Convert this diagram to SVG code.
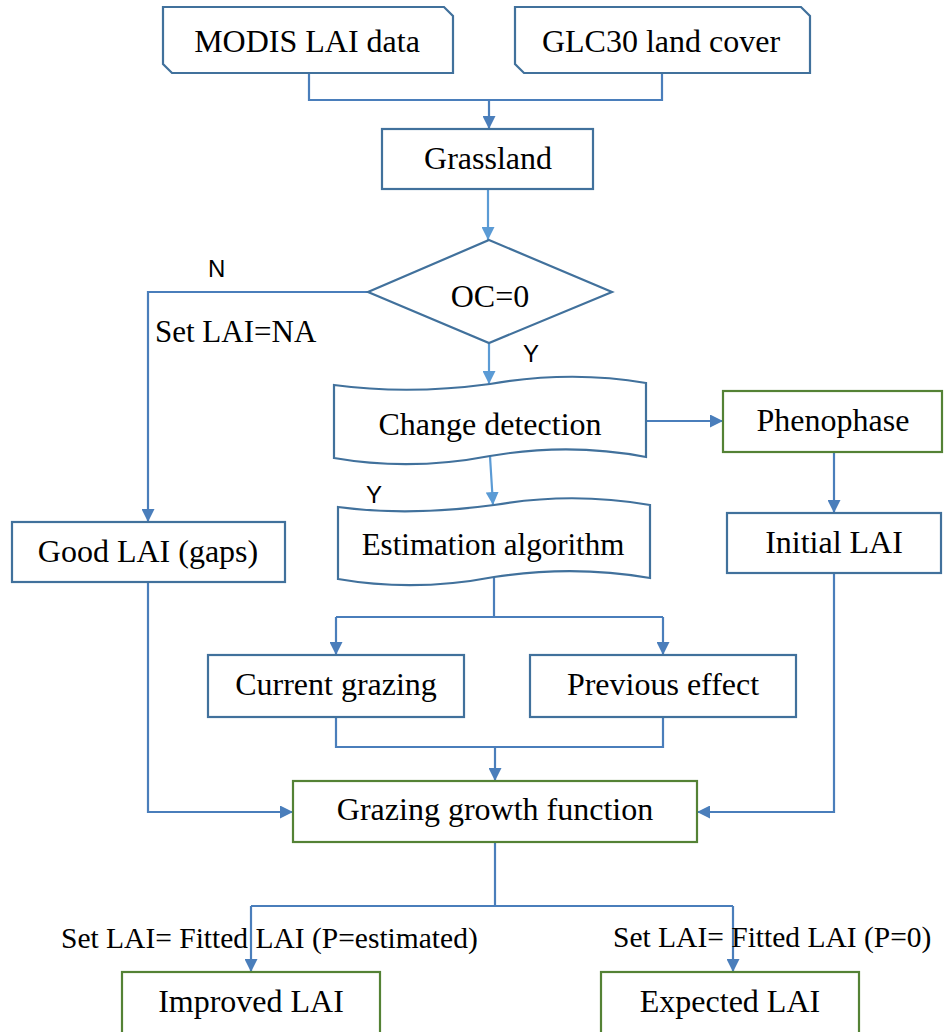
<svg xmlns="http://www.w3.org/2000/svg" width="944" height="1032" viewBox="0 0 944 1032">
<defs>
<marker id="ad" viewBox="0 0 10 10" refX="10" refY="5" markerWidth="13" markerHeight="13" markerUnits="userSpaceOnUse" orient="auto"><path d="M0,0 L10,5 L0,10 z" fill="#4A7EBB"/></marker>
<marker id="al" viewBox="0 0 10 10" refX="10" refY="5" markerWidth="13" markerHeight="13" markerUnits="userSpaceOnUse" orient="auto"><path d="M0,0 L10,5 L0,10 z" fill="#5B9BD5"/></marker>
<style>
.b{fill:#fff;stroke:#41719C;stroke-width:2.2}
.g{fill:#fff;stroke:#548235;stroke-width:2.2}
.t{font-family:"Liberation Serif","Times New Roman",serif;font-size:32px;fill:#000;text-anchor:middle}
.l{font-family:"Liberation Serif","Times New Roman",serif;font-size:29.5px;fill:#000}
.s{font-family:"Liberation Sans",Arial,sans-serif;font-size:24px;fill:#000}
.c{fill:none;stroke:#4A7EBB;stroke-width:2.2}
.cl{fill:none;stroke:#5B9BD5;stroke-width:2.2}
</style>
</defs>
<rect width="944" height="1032" fill="#fff"/>
<g id="connectors">
<path class="c" d="M309,73 V100 H662 V73"/>
<path class="c" d="M489,100 V129" marker-end="url(#ad)"/>
<path class="cl" d="M488,189 V240" marker-end="url(#al)"/>
<path class="c" d="M368,292 H148 V522" marker-end="url(#ad)"/>
<path class="cl" d="M489,343 V384" marker-end="url(#al)"/>
<path class="c" d="M646,421 H723" marker-end="url(#ad)"/>
<path class="c" d="M834,452 V513" marker-end="url(#ad)"/>
<path class="cl" d="M490,456 L493,505" marker-end="url(#al)"/>
<path class="c" d="M494,577 V617"/>
<path class="c" d="M336,617 H663"/>
<path class="c" d="M336,617 V655" marker-end="url(#ad)"/>
<path class="c" d="M663,617 V655" marker-end="url(#ad)"/>
<path class="c" d="M336,717 V747 H663 V717"/>
<path class="c" d="M495,747 V781" marker-end="url(#ad)"/>
<path class="c" d="M148,582 V812 H293" marker-end="url(#ad)"/>
<path class="c" d="M834,573 V812 H697" marker-end="url(#ad)"/>
<path class="c" d="M495,842 V906"/>
<path class="c" d="M251,906 H733"/>
<path class="c" d="M251,906 V972" marker-end="url(#ad)"/>
<path class="c" d="M733,906 V972" marker-end="url(#ad)"/>
</g>
<g id="modis">
<path class="b" d="M163,7 H444 L453,16 V73 H172 L163,64 Z"/>
<text class="t" x="307" y="52">MODIS LAI data</text>
</g>
<g id="glc30">
<path class="b" d="M515,7 H801 L810,16 V73 H524 L515,64 Z"/>
<text class="t" x="661" y="52">GLC30 land cover</text>
</g>
<g id="grassland">
<rect class="b" x="382" y="129" width="211" height="60"/>
<text class="t" x="488" y="169">Grassland</text>
</g>
<g id="oc0">
<path class="b" d="M489,240 L612,292 L489,343 L368,292 Z"/>
<text class="t" x="490" y="307">OC=0</text>
</g>
<g id="labels">
<text class="s" x="208" y="277">N</text>
<text class="l" x="155" y="342" style="font-size:31px">Set LAI=NA</text>
<text class="s" x="523" y="362">Y</text>
<text class="s" x="366" y="503">Y</text>
<text class="l" x="61" y="948">Set LAI= Fitted LAI (P=estimated)</text>
<text class="l" x="613" y="947">Set LAI= Fitted LAI (P=0)</text>
</g>
<g id="change">
<path class="b" d="M334,385 C386,392 438,391 490,384 C542,375 594,374 646,383 L646,457 C594,447 542,447 490,456 C438,466 386,467 334,458 Z"/>
<text class="t" x="490" y="435">Change detection</text>
</g>
<g id="estimation">
<path class="b" d="M338,507 C390,514 442,512 494,505 C546,496 598,496 650,505 L650,578 C598,569 546,569 494,577 C442,587 390,588 338,579 Z"/>
<text class="t" x="493" y="555" style="font-size:31px">Estimation algorithm</text>
</g>
<g id="phenophase">
<rect class="g" x="723" y="391" width="219" height="61"/>
<text class="t" x="833" y="431">Phenophase</text>
</g>
<g id="initial">
<rect class="b" x="727" y="513" width="214" height="60"/>
<text class="t" x="834" y="553">Initial LAI</text>
</g>
<g id="good">
<rect class="b" x="12" y="522" width="273" height="60"/>
<text class="t" x="148" y="562">Good LAI (gaps)</text>
</g>
<g id="current">
<rect class="b" x="208" y="655" width="256" height="62"/>
<text class="t" x="336" y="695">Current grazing</text>
</g>
<g id="previous">
<rect class="b" x="530" y="655" width="266" height="62"/>
<text class="t" x="663" y="695">Previous effect</text>
</g>
<g id="grazing">
<rect class="g" x="293" y="781" width="404" height="61"/>
<text class="t" x="495" y="820">Grazing growth function</text>
</g>
<g id="improved">
<rect class="g" x="122" y="972" width="258" height="70"/>
<text class="t" x="251" y="1012">Improved LAI</text>
</g>
<g id="expected">
<rect class="g" x="601" y="972" width="258" height="70"/>
<text class="t" x="730" y="1012">Expected LAI</text>
</g>
</svg>
